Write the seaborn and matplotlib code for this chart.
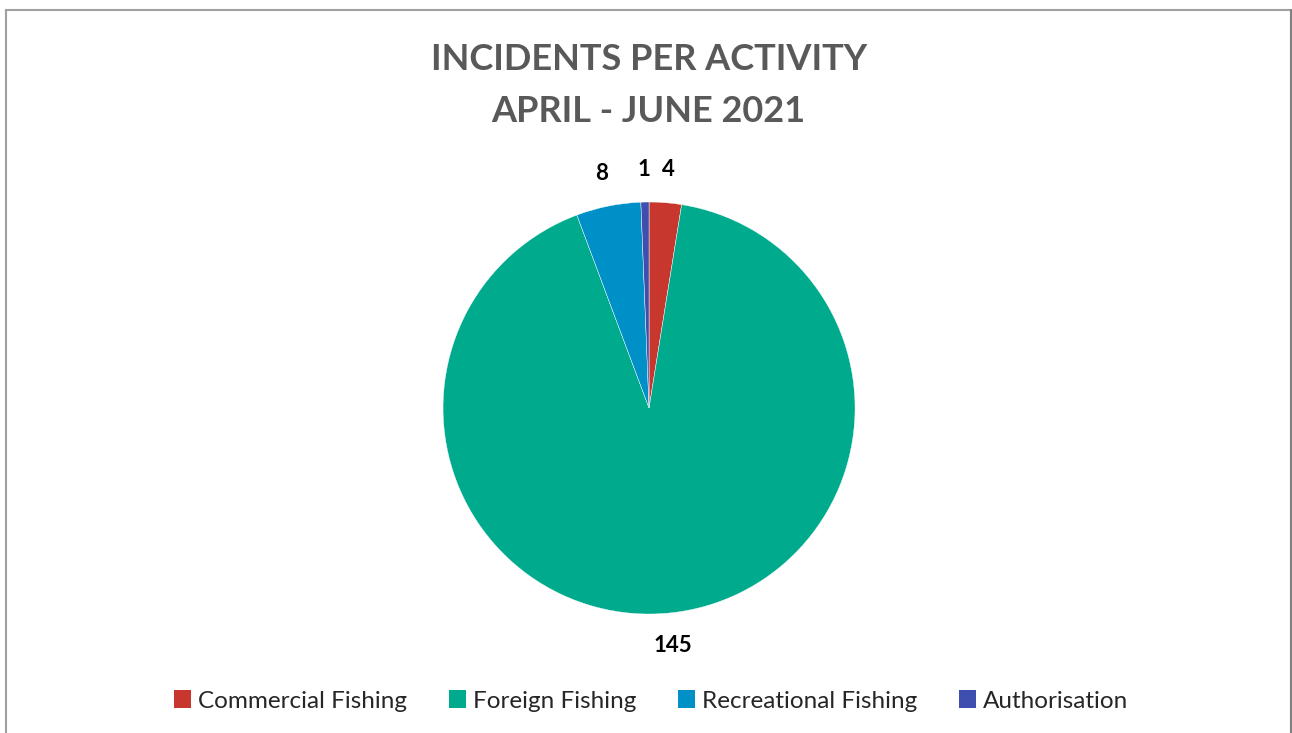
import matplotlib.pyplot as plt
import seaborn as sns
from matplotlib.lines import Line2D
from matplotlib.patches import Patch

# data
activities = ["Commercial Fishing", "Foreign Fishing", "Recreational Fishing", "Authorisation"]
incidents = [4, 145, 8, 1]
colors = ["#C8372D", "#00AA8C", "#0090C8", "#3F4FAF"]

sns.set_style("white")
plt.rcParams["font.family"] = ["Lato", "DejaVu Sans"]

fig = plt.figure(figsize=(12.92, 7.33), dpi=100)
ax = fig.add_axes([0.3429, 0.1623, 0.3189, 0.5621])

labels_it = iter(incidents)
wedges, texts, autotexts = ax.pie(
    incidents, colors=colors, startangle=90, counterclock=False,
    autopct=lambda p: str(next(labels_it)), pctdistance=1.16,
    wedgeprops=dict(linewidth=0.3, edgecolor="white"),
)
for t in autotexts:
    t.set_fontsize(16)
    t.set_fontweight("bold")
    t.set_color("black")
ax.set_xlim(-1, 1)
ax.set_ylim(-1, 1)
ax.set_aspect("equal")

# title
fig.text(0.502, 1 - 60 / 733, "INCIDENTS PER ACTIVITY", ha="center", va="center",
         fontsize=26, fontweight="bold", color="#595959")
fig.text(0.502, 1 - 111 / 733, "APRIL - JUNE 2021", ha="center", va="center",
         fontsize=26, fontweight="bold", color="#595959")

# legend
handles = [Patch(facecolor=c, edgecolor="none") for c in colors]
fig.legend(handles, activities, loc="center", bbox_to_anchor=(0.504, 1 - 701 / 733),
           ncol=4, frameon=False, fontsize=17.5, handlelength=0.7, handleheight=0.7,
           handletextpad=0.3, columnspacing=1.7)

# chart frame
grey = "#A0A0A0"
fig.add_artist(Line2D([6 / 1292, 6 / 1292], [0, 1 - 10 / 733], color=grey, lw=1.5))
fig.add_artist(Line2D([6 / 1292, 1291 / 1292], [1 - 10 / 733, 1 - 10 / 733], color=grey, lw=1.5))
fig.add_artist(Line2D([1291 / 1292, 1291 / 1292], [0, 1 - 10 / 733], color="#808080", lw=1.5))

fig.savefig("out.png", dpi=100, facecolor="white")
